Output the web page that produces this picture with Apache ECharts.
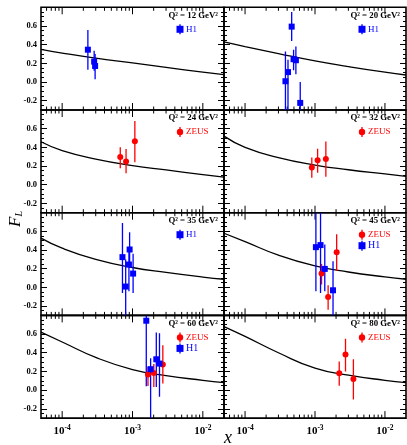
<!DOCTYPE html>
<html>
<head>
<meta charset="utf-8">
<script src="https://cdn.jsdelivr.net/npm/echarts@6/dist/echarts.min.js"></script>
<style>
    html, body { margin: 0; padding: 0; background: #fff; }
    #chart { width: 407px; height: 445px; }
</style>
</head>
<body>
<div id="chart"></div>
<script>
// panel labels, in reading order (left/right, top to bottom)
const q2Values = ['12', '20', '24', '32', '35', '45', '60', '80'];

// theory curve, read at these x positions
const curveX = [5e-5, 1e-4, 3e-4, 1e-3, 3e-3, 1e-2, 2e-2];
const curve12 = [0.35, 0.31, 0.255, 0.205, 0.157, 0.105, 0.078];
const curve20 = [0.43, 0.38, 0.305, 0.225, 0.165, 0.105, 0.075];
const curve24 = [0.46, 0.365, 0.275, 0.205, 0.158, 0.108, 0.082];
const curve32 = [0.52, 0.40, 0.29, 0.21, 0.16, 0.115, 0.09];
const curve35 = [0.528, 0.42, 0.30, 0.213, 0.16, 0.11, 0.087];
const curve45 = [0.58, 0.49, 0.345, 0.23, 0.165, 0.112, 0.087];
const curve60 = [0.62, 0.515, 0.35, 0.22, 0.155, 0.105, 0.08];
const curve80 = [0.68, 0.575, 0.40, 0.235, 0.16, 0.105, 0.08];

// measurements: [x, F_L, lower, upper]
const h1Q12 = [[2.32e-4, 0.346, 0.13, 0.556], [2.85e-4, 0.218, 0.12, 0.335], [2.94e-4, 0.171, 0.03, 0.30]];
const h1Q20 = [[3.78e-4, 0.008, -0.35, 0.327], [4.11e-4, 0.106, -0.35, 0.237], [4.64e-4, 0.593, 0.44, 0.75],
               [4.94e-4, 0.244, 0.127, 0.345], [5.33e-4, 0.233, 0.084, 0.38], [6.15e-4, -0.224, -0.35, 0.0]];
const zeusQ24 = [[6.7e-4, 0.296, 0.176, 0.40], [8.1e-4, 0.248, 0.122, 0.383], [1.08e-3, 0.465, 0.24, 0.683]];
const zeusQ32 = [[9.0e-4, 0.183, 0.074, 0.29], [1.09e-3, 0.263, 0.128, 0.386], [1.43e-3, 0.274, 0.085, 0.462]];
const h1Q35 = [[7.2e-4, 0.324, -0.06, 0.69], [8.0e-4, 0.009, -0.35, 0.30], [9.1e-4, 0.406, 0.21, 0.59],
               [8.9e-4, 0.245, -0.04, 0.39], [1.02e-3, 0.148, -0.06, 0.36]];
const h1Q45 = [[1.03e-3, 0.431, -0.04, 0.9], [1.2e-3, 0.453, -0.06, 0.9], [1.38e-3, 0.198, -0.04, 0.46],
               [1.81e-3, -0.031, -0.35, 0.28]];
const zeusQ45 = [[1.24e-3, 0.148, 0.03, 0.25], [1.54e-3, -0.103, -0.24, 0.023], [2.04e-3, 0.377, 0.175, 0.57]];
const h1Q60 = [[1.57e-3, 0.743, 0.04, 0.9], [1.81e-3, 0.224, -0.35, 0.34], [2.18e-3, 0.33, 0.033, 0.617],
               [2.42e-3, 0.284, -0.07, 0.61]];
const zeusQ60 = [[1.66e-3, 0.166, 0.044, 0.25], [2.01e-3, 0.184, 0.033, 0.28], [2.7e-3, 0.273, 0.07, 0.48]];
const zeusQ80 = [[2.22e-3, 0.18, 0.047, 0.305], [2.73e-3, 0.38, 0.20, 0.55], [3.54e-3, 0.12, -0.10, 0.33]];

const xMajorTicks = [1e-4, 1e-3, 1e-2];
const xMinorMantissa = [2, 3, 4, 5, 6, 7, 8, 9];
const xDecades = [-5, -4, -3, -2];

const panels = [
    { curve: curve12, sets: [['H1', h1Q12]] },
    { curve: curve20, sets: [['H1', h1Q20]] },
    { curve: curve24, sets: [['ZEUS', zeusQ24]] },
    { curve: curve32, sets: [['ZEUS', zeusQ32]] },
    { curve: curve35, sets: [['H1', h1Q35]] },
    { curve: curve45, sets: [['ZEUS', zeusQ45], ['H1', h1Q45]] },
    { curve: curve60, sets: [['ZEUS', zeusQ60], ['H1', h1Q60]] },
    { curve: curve80, sets: [['ZEUS', zeusQ80]] }
];

const X_MIN = 5e-5, X_MAX = 2e-2, Y_MIN = -0.3, Y_MAX = 0.8;
const LEFTS = [41, 224], WIDTHS = [183, 182];
const TOP0 = 7.3, PH = 102.7;
const FONT = 'Liberation Serif';
const STYLE = {
    H1: { color: '#0000ff', symbol: 'rect', size: 6 },
    ZEUS: { color: '#ff0000', symbol: 'circle', size: 6 }
};

const xTickData = [];
xMajorTicks.forEach(v => xTickData.push([v, Y_MIN, 7]));
xDecades.forEach(d => xMinorMantissa.forEach(m => {
    const v = m * Math.pow(10, d);
    if (v > X_MIN * 1.001 && v < X_MAX * 0.999) xTickData.push([v, Y_MIN, 3.5]);
}));

function renderXTicks(params, api) {
    const x = api.value(0), len = api.value(2);
    const b = api.coord([x, Y_MIN]), t = api.coord([x, Y_MAX]);
    const st = { stroke: '#000', lineWidth: 1 };
    return {
        type: 'group', children: [
            { type: 'line', shape: { x1: b[0], y1: b[1], x2: b[0], y2: b[1] - len }, style: st },
            { type: 'line', shape: { x1: t[0], y1: t[1], x2: t[0], y2: t[1] + len }, style: st }
        ]
    };
}

function renderErr(params, api) {
    const x = api.value(0);
    const lo = Math.max(api.value(2), Y_MIN), hi = Math.min(api.value(3), Y_MAX);
    const a = api.coord([x, lo]), b = api.coord([x, hi]);
    return {
        type: 'line',
        shape: { x1: a[0], y1: a[1], x2: b[0], y2: b[1] },
        style: { stroke: api.visual('color'), lineWidth: 1.3 }
    };
}

const grids = [], xAxes = [], yAxes = [], series = [], graphics = [];

panels.forEach((p, i) => {
    const col = i % 2, row = Math.floor(i / 2);
    const left = LEFTS[col], top = TOP0 + row * PH, right = left + WIDTHS[col];
    grids.push({
        left: left, top: top, width: WIDTHS[col], height: PH,
        show: true, borderColor: '#000', borderWidth: 1.6, backgroundColor: 'transparent',
        outerBoundsMode: 'none'
    });
    xAxes.push({
        type: 'log', logBase: 10, gridIndex: i, min: X_MIN, max: X_MAX,
        axisLine: { show: false }, axisTick: { show: false }, splitLine: { show: false },
        axisLabel: {
            show: row === 3, showMinLabel: false, showMaxLabel: false, margin: 6,
            formatter: v => {
                const e = Math.round(Math.log10(v));
                if (Math.abs(Math.log10(v) - e) > 1e-6) return '';
                return '{b|10}{s|' + e + '}';
            },
            rich: {
                b: { fontFamily: FONT, fontWeight: 'bold', fontSize: 11, color: '#000' },
                s: { fontFamily: FONT, fontWeight: 'bold', fontSize: 7.5, color: '#000', padding: [0, 0, 7, 0] }
            }
        }
    });
    ['left', 'right'].forEach(pos => {
        yAxes.push({
            type: 'value', gridIndex: i, min: Y_MIN, max: Y_MAX, position: pos,
            axisLine: { show: false }, splitLine: { show: false },
            axisTick: { show: true, inside: true, length: 6, lineStyle: { color: '#000', width: 1 } },
            minorTick: { show: true, splitNumber: 4, length: 3, lineStyle: { color: '#000', width: 1 } },
            axisLabel: {
                show: pos === 'left' && col === 0, showMinLabel: false, showMaxLabel: false,
                margin: 4, fontFamily: FONT, fontWeight: 'bold', fontSize: 8.5, color: '#000',
                formatter: v => v.toFixed(1)
            }
        });
    });
    const yi = 2 * i;
    series.push({
        type: 'custom', xAxisIndex: i, yAxisIndex: yi, renderItem: renderXTicks,
        data: xTickData, encode: { x: 0, y: 1 }, silent: true, z: 1
    });
    series.push({
        type: 'line', xAxisIndex: i, yAxisIndex: yi, showSymbol: false,
        smooth: 0.5, clip: true,
        data: curveX.map((x, k) => [x, p.curve[k]]),
        lineStyle: { color: '#000', width: 1.3 }, z: 2
    });
    p.sets.forEach(([name, rows]) => {
        const s = STYLE[name];
        series.push({
            type: 'custom', xAxisIndex: i, yAxisIndex: yi, renderItem: renderErr, clip: true,
            data: rows, encode: { x: 0, y: 1 }, itemStyle: { color: s.color }, z: 3
        });
        series.push({
            type: 'scatter', xAxisIndex: i, yAxisIndex: yi, symbol: s.symbol, symbolSize: s.size,
            data: rows.map(r => [r[0], r[1]]), itemStyle: { color: s.color, opacity: 1 }, z: 4
        });
    });

    // panel label and legend
    graphics.push({
        type: 'text', x: right - 6, y: top + 8,
        style: {
            text: 'Q² = ' + q2Values[i] + ' GeV²', align: 'right', verticalAlign: 'middle',
            font: 'bold 8.8px ' + FONT, fill: '#000'
        }
    });
    p.sets.forEach(([name], k) => {
        const s = STYLE[name];
        const mx = right - 44, my = top + 22 + 11 * k;
        graphics.push({ type: 'line', shape: { x1: mx, y1: my - 5, x2: mx, y2: my + 5 }, style: { stroke: s.color, lineWidth: 1.3 } });
        if (s.symbol === 'rect') {
            graphics.push({ type: 'rect', shape: { x: mx - 3.5, y: my - 3.5, width: 7, height: 7 }, style: { fill: s.color } });
        } else {
            graphics.push({ type: 'circle', shape: { cx: mx, cy: my, r: 3.2 }, style: { fill: s.color } });
        }
        graphics.push({
            type: 'text', x: mx + 6, y: my,
            style: { text: name, verticalAlign: 'middle', font: (name === 'H1' && p.sets.length > 1 ? '10px ' : '9px ') + FONT, fill: s.color }
        });
    });
});

graphics.push({
    type: 'text', x: 16, y: 219, rotation: Math.PI / 2,
    style: {
        text: '{f|F}{s|L}', align: 'center', verticalAlign: 'middle',
        rich: {
            f: { fontFamily: FONT, fontStyle: 'italic', fontSize: 17, fill: '#000' },
            s: { fontFamily: FONT, fontStyle: 'italic', fontSize: 10, fill: '#000', padding: [6, 0, 0, 0] }
        }
    }
});
graphics.push({
    type: 'text', x: 228, y: 438,
    style: { text: 'x', align: 'center', verticalAlign: 'middle', font: 'italic 18px ' + FONT, fill: '#000' }
});

const chart = echarts.init(document.getElementById('chart'), null, { renderer: 'canvas' });
chart.setOption({
    animation: false,
    backgroundColor: '#fff',
    grid: grids,
    xAxis: xAxes,
    yAxis: yAxes,
    series: series,
    graphic: graphics
});
</script>
</body>
</html>
